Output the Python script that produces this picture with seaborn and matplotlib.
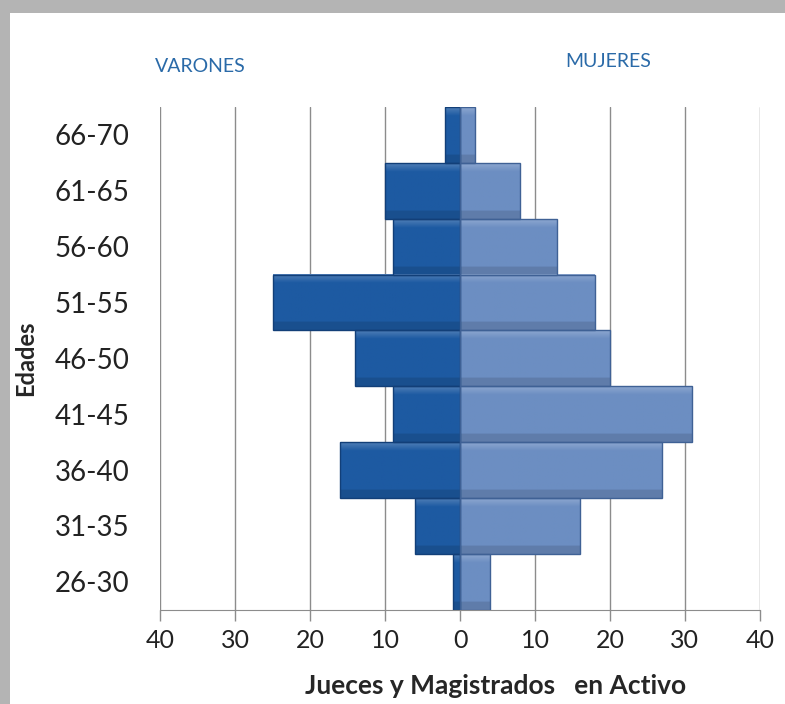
import pandas as pd
import numpy as np
import seaborn as sns
import matplotlib.pyplot as plt
from matplotlib.colors import to_rgb
from matplotlib.patches import Rectangle

# data (top row first)
edades = ['66-70', '61-65', '56-60', '51-55', '46-50', '41-45', '36-40', '31-35', '26-30']
varones = [2, 10, 9, 25, 14, 9, 16, 6, 1]
mujeres = [2, 8, 13, 18, 20, 31, 27, 16, 4]
xticks = [-40, -30, -20, -10, 0, 10, 20, 30, 40]

df = pd.DataFrame({'Edades': edades,
                   'Varones': [-v for v in varones],
                   'Mujeres': mujeres})

sns.set_style('white')
plt.rcParams['font.family'] = ['Lato', 'DejaVu Sans']

fig = plt.figure(figsize=(7.85, 7.04), dpi=100)
# gray frame shadow on top and left
fig.patches.append(Rectangle((0, 0.982), 1, 0.018, transform=fig.transFigure,
                             facecolor='#b4b4b4', edgecolor='none'))
fig.patches.append(Rectangle((0, 0), 0.013, 1, transform=fig.transFigure,
                             facecolor='#b4b4b4', edgecolor='none'))

ax = fig.add_axes([0.204, 0.134, 0.764, 0.714])
ax.patch.set_alpha(0)

for xv in xticks:
    ax.axvline(xv, color='#8c8c8c', lw=1, zorder=0)

sns.barplot(data=df, y='Edades', x='Varones', orient='h', color='#1d5aa2',
            width=1.0, saturation=1, edgecolor='#123f78', linewidth=1.0, ax=ax)
sns.barplot(data=df, y='Edades', x='Mujeres', orient='h', color='#6c8ec2',
            width=1.0, saturation=1, edgecolor='#3f6195', linewidth=1.0, ax=ax)

# soft bevel shading inside every bar
for p in list(ax.patches):
    x0, y0 = p.get_x(), p.get_y()
    w, h = p.get_width(), p.get_height()
    base = np.array(to_rgb(p.get_facecolor()))
    t = np.linspace(0, 1, 60)[:, None]
    light = np.clip(0.22 * (1 - t / 0.15), 0, None) * (t < 0.15)
    dark = 0.12 * (t > 0.85)
    grad = np.clip(base[None, :] + light * (1 - base[None, :]) - dark * base[None, :], 0, 1)
    img = np.repeat(grad[:, None, :], 2, axis=1)
    ax.imshow(img, extent=(x0, x0 + w, y0 + h, y0), aspect='auto', zorder=2,
              clip_path=p, interpolation='bilinear')
    p.set_facecolor('none')
    p.set_zorder(3)

ax.set_xlim(-40, 40)
ax.set_ylim(len(edades) - 0.5, -0.5)
ax.set_xticks(xticks)
ax.set_xticklabels([str(abs(x)) for x in xticks], fontsize=18, color='#222222')
ax.tick_params(axis='y', labelsize=20, length=0, pad=22, labelcolor='#222222')
ax.tick_params(axis='x', length=8, width=1, color='#8c8c8c', bottom=True, pad=6)
for s in ['top', 'right', 'left']:
    ax.spines[s].set_visible(False)
ax.spines['bottom'].set_color('#8c8c8c')

ax.set_xlabel('Jueces y Magistrados   en Activo', fontsize=19, fontweight='bold')
ax.xaxis.set_label_coords(0.56, -0.128)
ax.set_ylabel('Edades', fontsize=17, fontweight='bold')
ax.yaxis.set_label_coords(-0.205, 0.5)

fig.text(0.255, 0.905, 'VARONES', color='#2a6aa8', fontsize=14, ha='center', va='center')
fig.text(0.775, 0.912, 'MUJERES', color='#2a6aa8', fontsize=14, ha='center', va='center')

fig.savefig('out.png', dpi=100)
